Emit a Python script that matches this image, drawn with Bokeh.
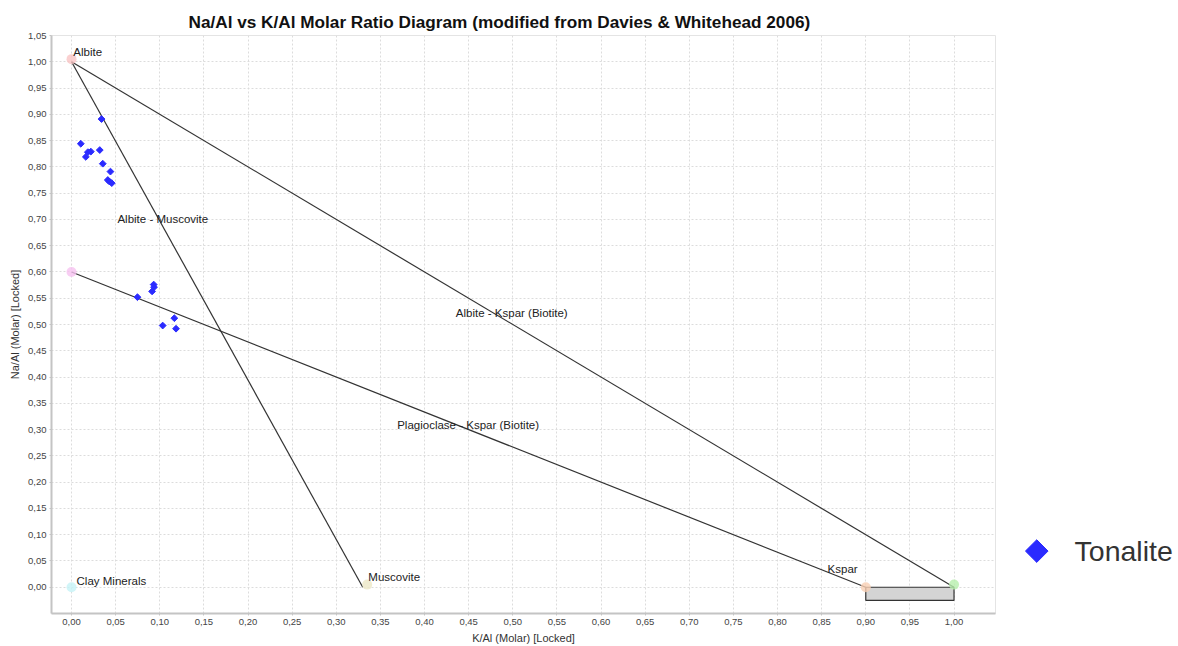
import math
from bokeh.plotting import figure
from bokeh.layouts import row
from bokeh.models import Range1d, FixedTicker, CustomJSTickFormatter
from bokeh.core.properties import value
from bokeh.embed import file_html
from bokeh.resources import INLINE

# ---- data ----
tonalite_k = [0.034, 0.0105, 0.0162, 0.0185, 0.0219, 0.032, 0.0354, 0.0441, 0.0411, 0.043, 0.0456,
              0.0747, 0.0931, 0.0935, 0.0913, 0.1033, 0.1165, 0.1184]
tonalite_na = [0.891, 0.844, 0.819, 0.828, 0.829, 0.832, 0.806, 0.791, 0.775, 0.772, 0.769,
               0.552, 0.576, 0.571, 0.563, 0.498, 0.512, 0.492]
series_name = "Tonalite"

# reference lines (start/end points)
line_names = ["Albite - Muscovite", "Albite - Kspar (Biotite)", "Plagioclase - Kspar (Biotite)"]
line_x0 = [0.0, 0.0, 0.0]
line_y0 = [1.0, 1.0, 0.6]
line_x1 = [0.33, 1.0, 0.9]
line_y1 = [0.0, 0.0, 0.0]
line_label_x = [0.052, 0.4355, 0.369]
line_label_y = [0.701, 0.521, 0.308]

# end-member points
member_names = ["Albite", "Plagioclase", "Clay Minerals", "Muscovite", "Kspar", "Kspar end"]
member_x = [0.0, 0.0, 0.0, 0.335, 0.9, 1.0]
member_y = [1.005, 0.6, 0.0, 0.005, 0.0, 0.005]
member_colors = ["#f9c4c4", "#f6c2f0", "#c6f3f6", "#ece7c6", "#f9cfb4", "#b6efad"]

# point labels
plabel_text = ["Albite", "Clay Minerals", "Muscovite", "Kspar"]
plabel_x = [0.002, 0.0057, 0.3363, 0.8567]
plabel_y = [1.0177, 0.011, 0.0198, 0.035]

# Kspar field box
box_left, box_right, box_bottom, box_top = 0.9, 1.0, -0.025, 0.0

x_ticks = [round(i * 0.05, 2) for i in range(21)]
y_ticks = [round(i * 0.05, 2) for i in range(22)]

FONT = "Liberation Sans"
MARK_COLOR = "#2b2bff"

p = figure(frame_width=944, frame_height=578, output_backend="svg", toolbar_location=None,
           x_range=Range1d(-0.0227, 1.047), y_range=Range1d(-0.05, 1.05),
           min_border_left=51, min_border_right=8, min_border_top=35, min_border_bottom=33)

p.title.text = "Na/Al vs K/Al Molar Ratio Diagram (modified from Davies & Whitehead 2006)"
p.title.text_font = FONT
p.title.text_font_size = "17.2px"
p.title.text_font_style = "bold"
p.title.text_color = "#111111"
p.title.align = "left"
p.title.offset = 137
p.title.standoff = 7

p.outline_line_color = "#e4e4e4"
p.background_fill_color = "white"
p.border_fill_color = "white"

fmt = CustomJSTickFormatter(code="return tick.toFixed(2).replace('.', ',');")
for ax, ticks in ((p.xaxis[0], x_ticks), (p.yaxis[0], y_ticks)):
    ax.ticker = FixedTicker(ticks=ticks)
    ax.formatter = fmt
    ax.major_label_text_font = FONT
    ax.major_label_text_font_size = "9.5px"
    ax.major_label_text_color = "#444444"
    ax.axis_line_color = "#c4c4c4"
    ax.axis_line_width = 2
    ax.major_tick_line_color = "#c4c4c4"
    ax.major_tick_out = 2
    ax.major_tick_in = 0
    ax.minor_tick_line_color = None
    ax.axis_label_text_font = FONT
    ax.axis_label_text_font_size = "11px"
    ax.axis_label_text_font_style = "normal"
    ax.axis_label_text_color = "#333333"
    ax.major_label_standoff = 3
    ax.axis_label_standoff = 4

p.xaxis.axis_label = "K/Al (Molar) [Locked]"
p.yaxis.axis_label = "Na/Al (Molar) [Locked]"

for g in (p.xgrid[0], p.ygrid[0]):
    g.grid_line_color = "#dcdcdc"
    g.grid_line_dash = "2 2"
    g.grid_line_width = 1

# Kspar box
p.quad(left=[box_left], right=[box_right], bottom=[box_bottom], top=[box_top],
       fill_color="#d4d4d4", line_color="#333333", line_width=1.2)

# lines
p.segment(x0=line_x0, y0=line_y0, x1=line_x1, y1=line_y1, line_color="#333333", line_width=1.2)

# end members
p.scatter(x=member_x, y=member_y, size=10, color=member_colors, alpha=0.8, line_color=None)

# data points
p.scatter(x=tonalite_k, y=tonalite_na, marker="square", angle=math.pi / 4, size=4.8,
          fill_color=MARK_COLOR, line_color=MARK_COLOR)

# labels
p.text(x=line_label_x, y=line_label_y, text=line_names, text_font=value(FONT),
       text_font_size="11.5px", text_color="#222222", text_baseline="middle", text_align="left")
p.text(x=plabel_x, y=plabel_y, text=plabel_text, text_font=value(FONT),
       text_font_size="11.5px", text_color="#222222", text_baseline="middle", text_align="left")

# legend panel (separate figure on the right)
lg = figure(width=175, height=646, output_backend="svg", toolbar_location=None,
            x_range=Range1d(0, 1), y_range=Range1d(0, 1),
            x_axis_location=None, y_axis_location=None, min_border=0)
lg.grid.visible = False
lg.outline_line_color = None
lg.border_fill_color = "white"
lg.scatter(x=[0.19], y=[0.108], marker="square", angle=math.pi / 4, size=16,
           fill_color=MARK_COLOR, line_color=MARK_COLOR)
lg.text(x=[0.406], y=[0.108], text=[series_name], text_font=value(FONT), text_font_size="28.5px",
        text_color="#333333", text_baseline="middle", text_align="left")

layout = row(p, lg)
open("out.html", "w").write(file_html(layout, INLINE))
